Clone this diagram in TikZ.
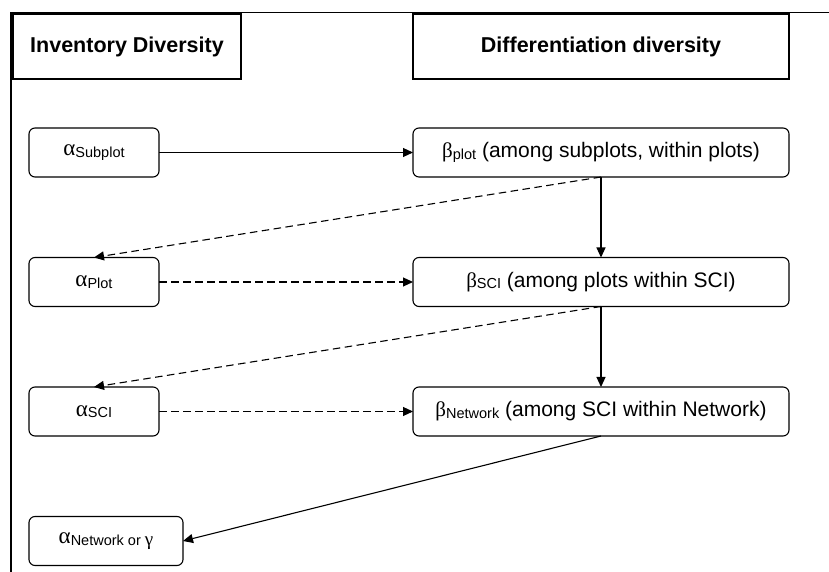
\documentclass[tikz,border=0pt]{standalone}
\usepackage{fontspec}
\setmainfont{Liberation Sans}
\newfontfamily\grkfont{Liberation Serif}
\usetikzlibrary{positioning,arrows.meta}
\newcommand{\grk}[1]{{\grkfont #1}}
\newcommand{\bigalpha}{{\grkfont\fontsize{23}{25}\selectfont α}}
\newcommand{\lowtext}[1]{\raisebox{-1.5pt}{\fontsize{14.5}{16}\selectfont #1}}

\begin{document}
\begin{tikzpicture}[x=1pt, y=1pt, line width=1.1pt,
    every node/.style={font=\fontsize{21}{25}\selectfont},
    headbox/.style={draw, minimum height=65pt, inner sep=0pt, outer sep=0pt,
      font=\fontsize{21.5}{25}\selectfont\bfseries},
    divbox/.style={draw, rounded corners=6pt, minimum height=49pt, inner sep=0pt, outer sep=0pt},
    flow/.style={-{Triangle[length=10pt, width=9pt]}},
    dashflow/.style={flow, dash pattern=on 7.5pt off 4.5pt}]
  \useasboundingbox (0,0) rectangle (829,572) ;
  \draw (11,0) |- (829,559.5) ;

  \node [divbox, minimum width=130pt] (asubplot) at (94,419.5) {\bigalpha\lowtext{Subplot}} ;
    \node [divbox, minimum width=130pt, below=80.5pt of asubplot] (aplot) {\bigalpha\lowtext{Plot}} ;
    \node [divbox, minimum width=130pt, below=80.5pt of aplot] (asci) {\bigalpha\lowtext{SCI}} ;
    \node [divbox, minimum width=154pt, below=80.5pt of asci.south west, anchor=north west] (anetwork) {
      \bigalpha\lowtext{Network or {\grkfont\fontsize{19}{20}\selectfont γ}}
    } ;
  \node [divbox, minimum width=376pt, right=254pt of asubplot] (bplot) {
    \grk{β}\lowtext{plot} (among subplots, within plots)
  } ;
    \node [divbox, minimum width=376pt, below=80.5pt of bplot] (bsci) {
      \grk{β}\lowtext{SCI} (among plots within SCI)
    } ;
    \node [divbox, minimum width=376pt, below=80.5pt of bsci] (bnetwork) {
      \grk{β}\lowtext{Network} (among SCI within Network)
    } ;
  \node [headbox, minimum width=376pt, above=49pt of bplot] (diffdiv) {Differentiation diversity} ;
  \node [headbox, minimum width=228pt, left=172pt of diffdiv] (invdiv) {Inventory Diversity} ;

  \path [flow] (asubplot) edge (bplot) ;
    \path [flow] (bplot) edge (bsci) ;
    \path [flow] (bsci) edge (bnetwork) ;
  \path [dashflow] (bplot.south) edge (aplot.north) ;
  \path [dashflow] (aplot) edge (bsci) ;
  \path [dashflow] (bsci.south) edge (asci.north) ;
  \path [dashflow] (asci) edge (bnetwork) ;
  \path [flow] (bnetwork.south) edge (anetwork.east) ;
\end{tikzpicture}
\end{document}
